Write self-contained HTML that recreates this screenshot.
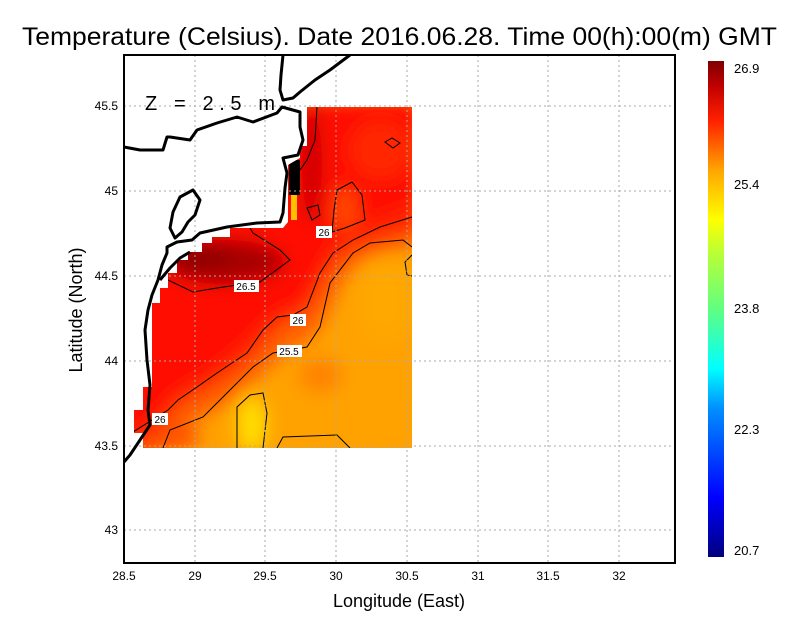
<!DOCTYPE html>
<html><head><meta charset="utf-8"><style>html,body{margin:0;padding:0;background:#fff}svg{display:block}</style></head>
<body>
<svg width="800" height="618" viewBox="0 0 800 618" xmlns="http://www.w3.org/2000/svg" font-family="Liberation Sans, sans-serif">
<defs>
<clipPath id="dc"><path d="M307,107 L412,107 L412,448 L143,448 L143,433 L134,433 L134,410 L143,410 L143,387 L152,387 L152,303 L160,303 L160,288 L168,288 L168,273 L177,273 L177,260 L188,260 L188,252 L202,252 L202,243 L212,243 L212,237 L230,237 L230,228 L283,228 L288,222 L288,165 L300,158 L300,146 L307,146 Z"/></clipPath>
<filter id="bl" x="-20%" y="-20%" width="140%" height="140%"><feGaussianBlur stdDeviation="9"/></filter>
<linearGradient id="cb" x1="0" y1="1" x2="0" y2="0">
<stop offset="0" stop-color="#00007f"/><stop offset="0.12" stop-color="#0000ff"/><stop offset="0.3" stop-color="#0090ff"/><stop offset="0.38" stop-color="#00ffff"/><stop offset="0.5" stop-color="#60ff80"/><stop offset="0.62" stop-color="#c0ff30"/><stop offset="0.68" stop-color="#ffff00"/><stop offset="0.78" stop-color="#ffa500"/><stop offset="0.88" stop-color="#ff2000"/><stop offset="0.95" stop-color="#c00000"/><stop offset="1" stop-color="#7f0000"/>
</linearGradient>
</defs>
<rect width="800" height="618" fill="#fff"/>
<text x="22" y="45" font-size="25" textLength="755" lengthAdjust="spacingAndGlyphs">Temperature (Celsius). Date 2016.06.28. Time 00(h):00(m) GMT</text>
<g clip-path="url(#dc)">
<rect x="120" y="100" width="300" height="360" fill="#ffa200"/>
<g filter="url(#bl)">
<path d="M120,100 L420,100 L420,245 L385,252 L360,260 L340,285 L330,310 L315,335 L290,350 L260,375 L225,405 L190,425 L165,455 L120,470 Z" fill="#ff6000"/>
<path d="M120,100 L420,100 L420,230 L380,240 L353,250 L333,265 L320,290 L307,312 L280,325 L250,360 L215,385 L180,405 L150,440 L120,460 Z" fill="#ff2400"/>
<path d="M120,100 L420,100 L420,200 L370,220 L345,230 L330,245 L315,275 L300,300 L270,315 L240,345 L210,370 L175,390 L150,420 L120,440 Z" fill="#ff0c00"/>
<ellipse cx="225" cy="262" rx="60" ry="22" fill="#a80000"/>
<ellipse cx="200" cy="255" rx="30" ry="15" fill="#900000"/>
<ellipse cx="312" cy="165" rx="10" ry="60" fill="#c80000"/>
<ellipse cx="345" cy="210" rx="12" ry="22" fill="#ff4a00"/>
<ellipse cx="380" cy="150" rx="30" ry="30" fill="#ff2800"/>
<ellipse cx="252" cy="425" rx="14" ry="28" fill="#ffe000"/>
<ellipse cx="320" cy="375" rx="22" ry="18" fill="#ff8400"/>
<ellipse cx="385" cy="300" rx="25" ry="40" fill="#ffa800"/>
<ellipse cx="175" cy="438" rx="25" ry="12" fill="#ff5000"/>
</g>
<rect x="289" y="160" width="11" height="35" fill="#000"/>
<rect x="291" y="195" width="6" height="25" fill="#ffc000"/>
<g fill="none" stroke="#000" stroke-width="1">
<path d="M133,432 L168,410 L178,400 L197,387 L217,373 L247,353 L263,330 L277,317 L293,315 L307,307 L320,273 L333,253 L353,240 L380,227 L412,217"/>
<path d="M163,448 L170,430 L203,417 L220,400 L253,367 L273,353 L307,347 L320,327 L330,283 L353,253 L370,243 L403,240 L412,247"/>
<path d="M237,448 L237,407 L250,395 L263,393 L267,413 L263,448"/>
<path d="M277,448 L283,437 L337,435 L350,448"/>
<path d="M168,280 L193,292 L217,288 L237,285 L260,282 L290,260 L280,250 L253,233 L250,228"/>
<path d="M337,190 L352,182 L362,195 L365,220 L345,228 L332,232 L334,210 Z"/>
<path d="M307,208 L318,205 L320,215 L312,220 Z"/>
<path d="M317,107 L315,140 L307,160 L300,170"/>
<path d="M385,142 L392,138 L400,143 L393,148 Z"/>
<path d="M412,255 L405,262 L407,275 L412,276"/>
</g>
</g>
<g stroke="#aaa" stroke-width="1" stroke-dasharray="2,3">
<path d="M195,55V563M265,55V563M336,55V563M407,55V563M478,55V563M548,55V563M619,55V563"/>
<path d="M124,106H675M124,191H675M124,276H675M124,361H675M124,446H675M124,530H675"/>
</g>
<g fill="none" stroke="#000" stroke-width="3" stroke-linejoin="round">
<path d="M283,55 L281,75 L280,90 L283,100 L293,98 L300,92 L315,80 L330,70 L350,55"/>
<path d="M124,147 L140,150 L150,150 L163,150 L167,137 L170,137 L190,140 L197,130 L217,123 L237,117 L253,122 L277,113 L282,107 L300,112 L300,127 L303,140 L298,155 L283,158 L287,173 L285,188 L283,213 L280,222 L257,223 L227,227 L200,233 L192,240 L177,242 L167,247 L167,253 L162,265 L158,280 L152,295 L148,310 L145,330 L147,360 L150,385 L148,410 L150,425 L140,440 L130,455 L124,462"/>
<path d="M180,197 L193,190 L200,200 L195,215 L188,222 L182,232 L175,238 L170,228 L173,212 Z"/>
<path d="M160,280 L170,268 L180,258 L190,252"/>
</g>
<rect x="124" y="55" width="551" height="508" fill="none" stroke="#000" stroke-width="2"/>
<g font-size="12" text-anchor="end">
<text x="118" y="110">45.5</text><text x="118" y="195">45</text><text x="118" y="280">44.5</text><text x="118" y="365">44</text><text x="118" y="450">43.5</text><text x="118" y="534">43</text>
</g>
<g font-size="12" text-anchor="middle">
<text x="124" y="580">28.5</text><text x="195" y="580">29</text><text x="265" y="580">29.5</text><text x="336" y="580">30</text><text x="407" y="580">30.5</text><text x="478" y="580">31</text><text x="548" y="580">31.5</text><text x="619" y="580">32</text>
</g>
<text x="399" y="607" font-size="18" text-anchor="middle">Longitude (East)</text>
<text transform="translate(82,310) rotate(-90)" font-size="18" text-anchor="middle">Latitude (North)</text>
<text x="145" y="110" font-size="20" textLength="130" lengthAdjust="spacing">Z = 2.5 m</text>
<g font-size="10" text-anchor="middle">
<rect x="316" y="226" width="16" height="12" fill="#fff"/><text x="324" y="236">26</text>
<rect x="234" y="280" width="25" height="12" fill="#fff"/><text x="246" y="290">26.5</text>
<rect x="290" y="314" width="16" height="12" fill="#fff"/><text x="298" y="324">26</text>
<rect x="277" y="345" width="25" height="12" fill="#fff"/><text x="289" y="355">25.5</text>
<rect x="152" y="413" width="16" height="12" fill="#fff"/><text x="160" y="423">26</text>
</g>
<rect x="708" y="61" width="16" height="496" fill="url(#cb)"/>
<g font-size="13">
<text x="734" y="73">26.9</text><text x="734" y="189">25.4</text><text x="734" y="313">23.8</text><text x="734" y="434">22.3</text><text x="734" y="555">20.7</text>
</g>
</svg>
</body></html>
